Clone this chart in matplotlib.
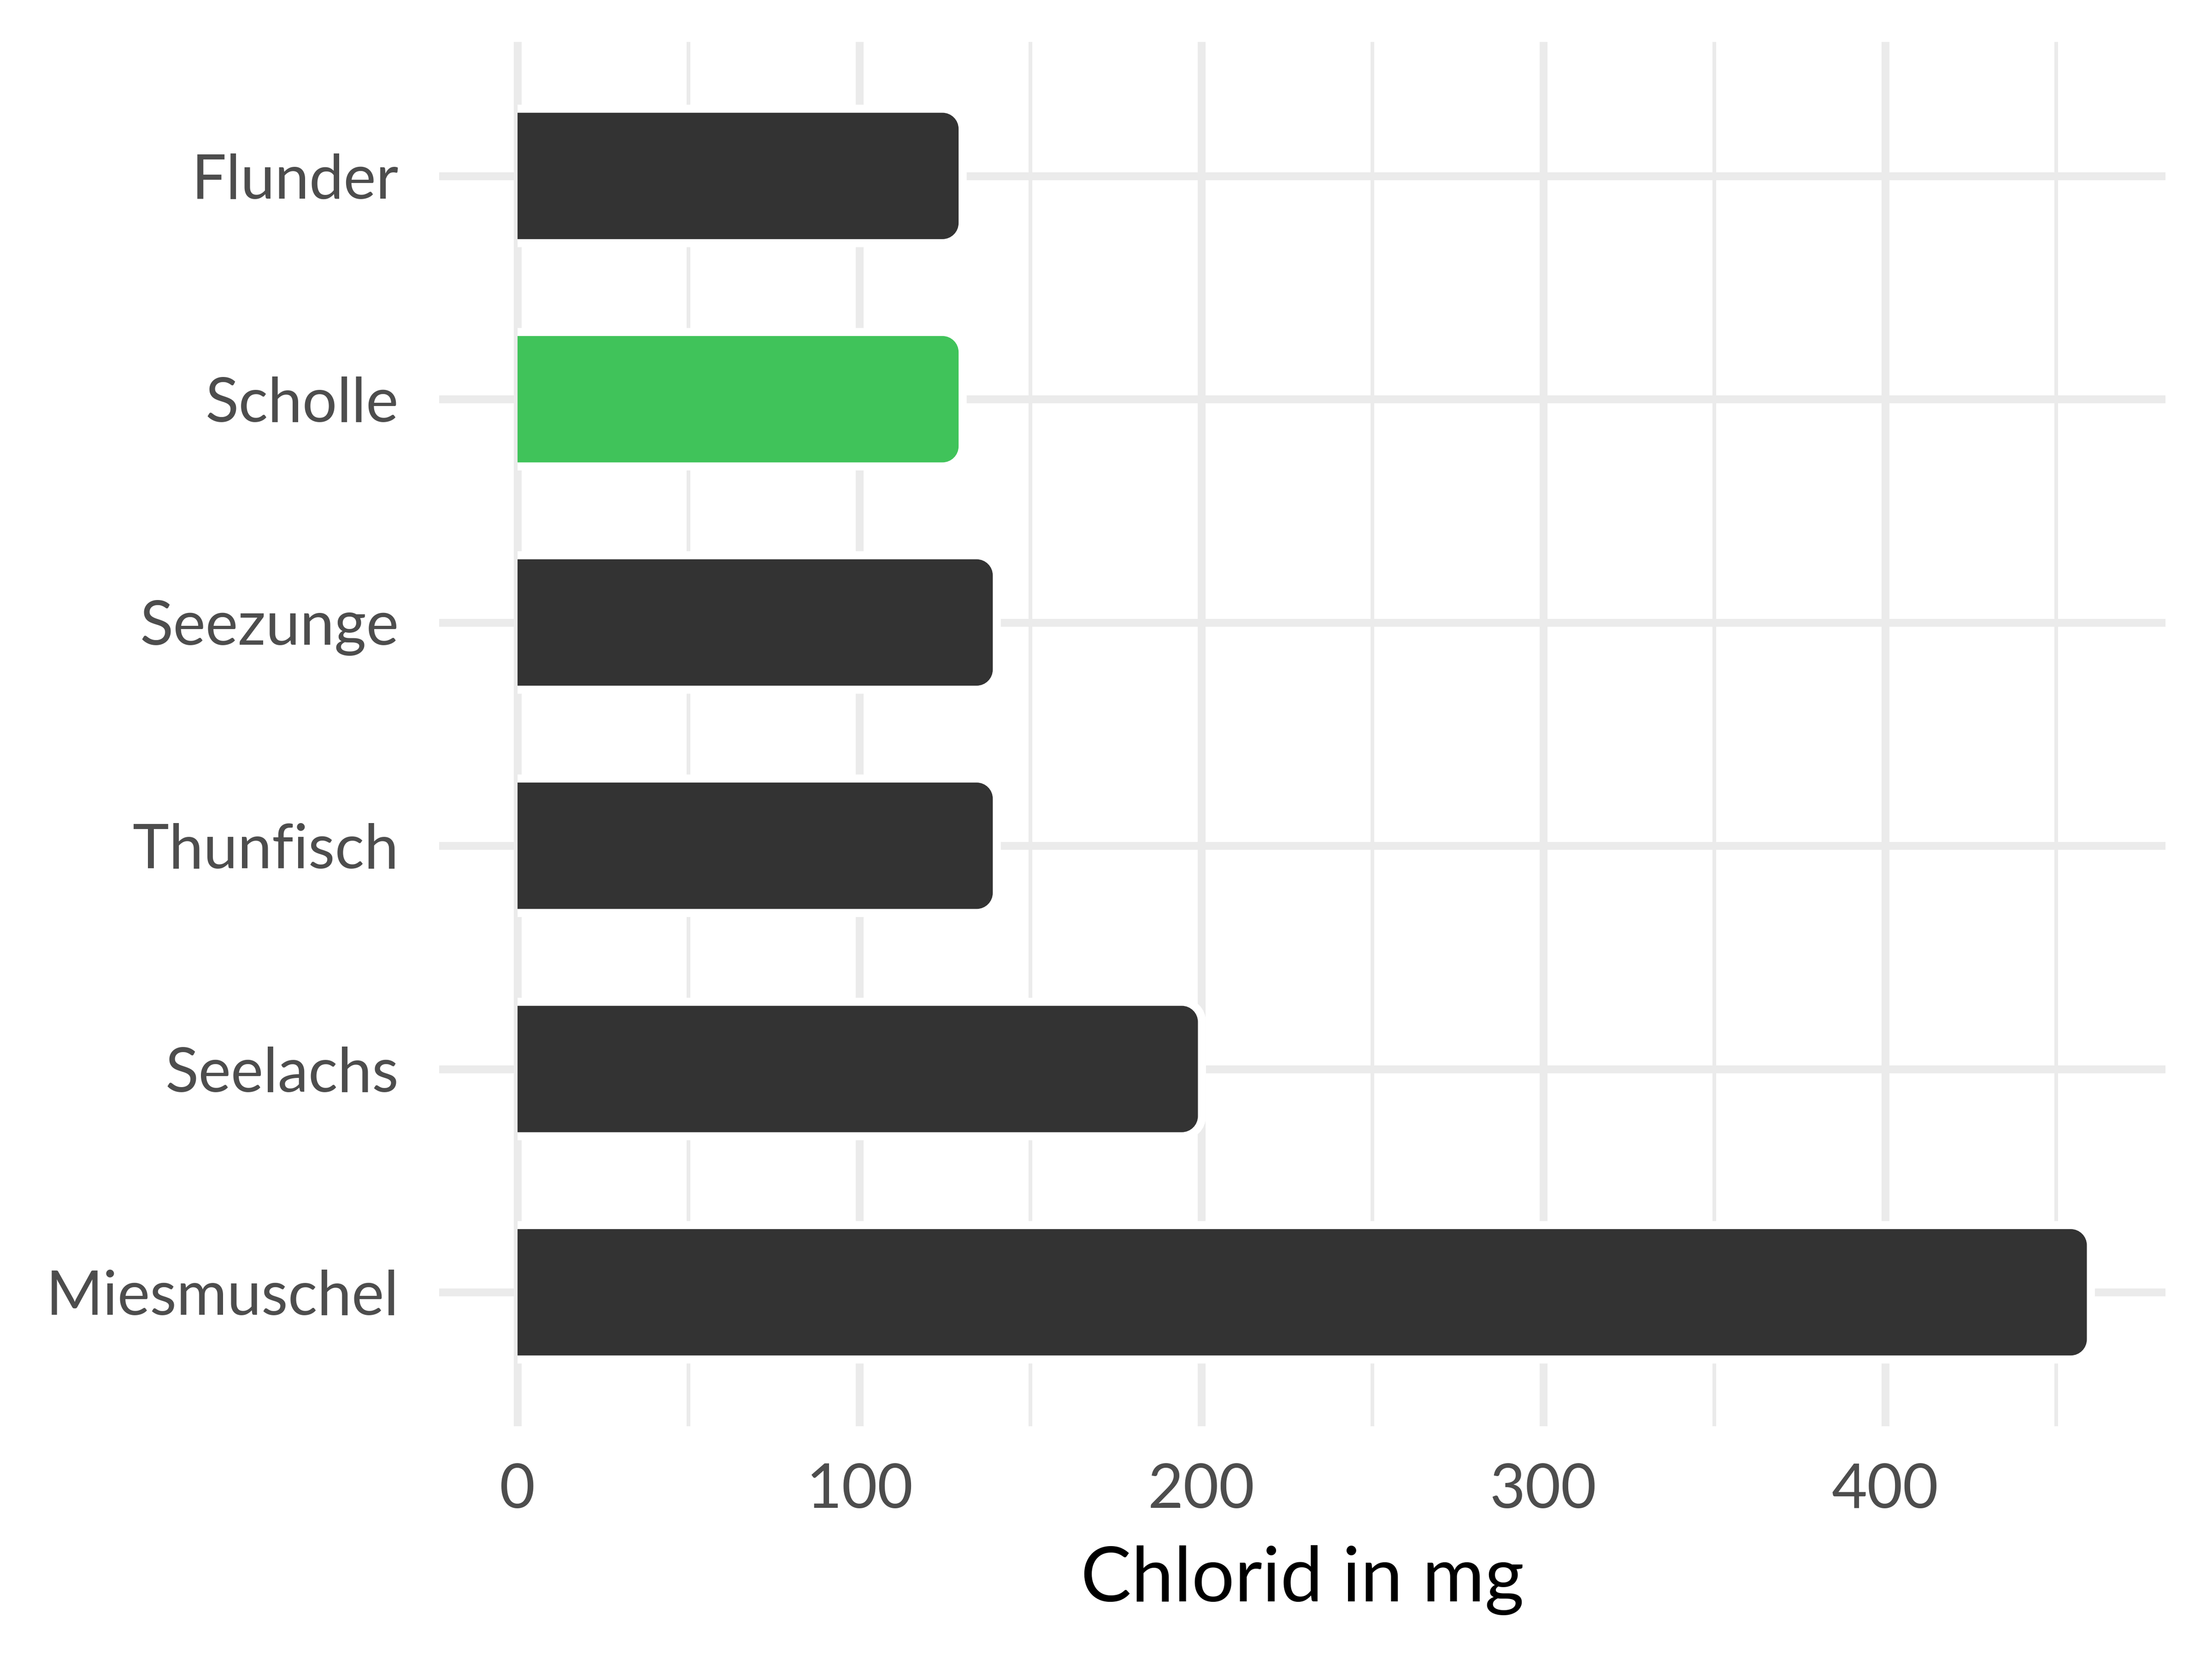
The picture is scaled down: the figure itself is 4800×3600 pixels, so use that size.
import matplotlib
matplotlib.use("Agg")
import matplotlib.pyplot as plt
from matplotlib.path import Path
from matplotlib.patches import PathPatch
from matplotlib.ticker import MultipleLocator
import numpy as np

# data, top to bottom
fische = ["Flunder", "Scholle", "Seezunge", "Thunfisch", "Seelachs", "Miesmuschel"]
chlorid = [129, 129, 139, 139, 199, 459]
hervorgehoben = "Scholle"
x_ticks = [0, 100, 200, 300, 400]

plt.rcParams['font.family'] = ['Lato', 'DejaVu Sans']

DPI = 300
fig = plt.figure(figsize=(16, 12), dpi=DPI)
ax = fig.add_axes([0.1985, 0.1403, 0.7804, 0.8344])

pad = 0.05 * max(chlorid)
ax.set_xlim(-pad, max(chlorid) + pad)
ax.set_ylim(len(fische) - 0.4, -0.6)

for s in ax.spines.values():
    s.set_visible(False)

ax.set_xticks(x_ticks)
ax.xaxis.set_minor_locator(MultipleLocator(50))
ax.set_yticks(range(len(fische)))
ax.set_yticklabels(fische)
ax.grid(which='major', axis='both', color='#EBEBEB', linewidth=4.1, zorder=0)
ax.grid(which='minor', axis='x', color='#EBEBEB', linewidth=1.9, zorder=0)
ax.set_axisbelow(True)
ax.tick_params(axis='both', which='both', length=0, labelsize=32, labelcolor='#4D4D4D')
ax.tick_params(axis='y', pad=21)
ax.tick_params(axis='x', pad=19)
ax.set_xlabel("Chlorid in mg", fontsize=39.5, color='black', labelpad=14)

# bars via barh, then swapped for shapes rounded on the right
farben = ['#40C35A' if f == hervorgehoben else '#333333' for f in fische]
bars = ax.barh(range(len(fische)), chlorid, height=0.566, color=farben)

bbox = ax.get_position()
px_w = bbox.width * fig.get_figwidth() * DPI
px_h = bbox.height * fig.get_figheight() * DPI
xr = ax.get_xlim()[1] - ax.get_xlim()[0]
yr = abs(ax.get_ylim()[1] - ax.get_ylim()[0])
r_px = 35
rx = r_px * xr / px_w
ry = r_px * yr / px_h
k = 0.5523

for b, c in zip(bars, farben):
    x0, y0 = b.get_x(), b.get_y()
    x1, y1 = x0 + b.get_width(), y0 + b.get_height()
    b.remove()
    verts = [(x0, y0), (x1 - rx, y0),
             (x1 - rx + k * rx, y0), (x1, y0 + ry - k * ry), (x1, y0 + ry),
             (x1, y1 - ry),
             (x1, y1 - ry + k * ry), (x1 - rx + k * rx, y1), (x1 - rx, y1),
             (x0, y1)]
    codes = [Path.MOVETO, Path.LINETO,
             Path.CURVE4, Path.CURVE4, Path.CURVE4,
             Path.LINETO,
             Path.CURVE4, Path.CURVE4, Path.CURVE4,
             Path.LINETO]
    # white outline cuts the grid lines around the bar
    ax.add_patch(PathPatch(Path(verts, codes), facecolor='none', edgecolor='white',
                           linewidth=8.4, capstyle='butt', zorder=2))
    fill_path = Path(verts + [(x0, y0)], codes + [Path.CLOSEPOLY])
    ax.add_patch(PathPatch(fill_path, facecolor=c, edgecolor='none', zorder=3))

fig.savefig("out.png", dpi=DPI, facecolor='white')
